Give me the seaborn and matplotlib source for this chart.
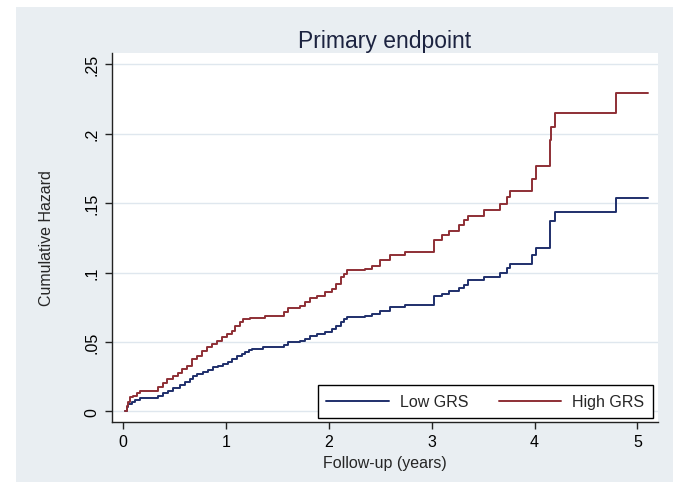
import numpy as np
import pandas as pd
import matplotlib
matplotlib.use("Agg")
import matplotlib.pyplot as plt
from matplotlib.patches import Rectangle
import seaborn as sns

# Nelson-Aalen style cumulative hazard (step-post)
LOW_T = [0.02, 0.036, 0.05, 0.084, 0.117, 0.165, 0.344, 0.392, 0.44, 0.49,
         0.554, 0.603, 0.652, 0.684, 0.717, 0.781, 0.83, 0.879, 0.927, 0.976,
         1.025, 1.057, 1.106, 1.155, 1.187, 1.22, 1.25, 1.365, 1.56, 1.608,
         1.72, 1.77, 1.819, 1.884, 1.965, 2.03, 2.07, 2.118, 2.15, 2.18,
         2.35, 2.42, 2.5, 2.597, 2.743, 3.02, 3.10, 3.17, 3.27, 3.31,
         3.355, 3.51, 3.66, 3.73, 3.765, 3.975, 4.01, 4.15, 4.155, 4.16,
         4.20, 4.79, 5.10]
LOW_H = [0.0, 0.0035, 0.0054, 0.007, 0.0085, 0.0097, 0.0114, 0.0131, 0.015, 0.0169,
         0.0191, 0.021, 0.0234, 0.0258, 0.027, 0.0287, 0.0301, 0.0318, 0.033, 0.0342,
         0.0359, 0.0378, 0.0397, 0.0414, 0.0431, 0.0445, 0.045, 0.0464, 0.0481, 0.0499,
         0.051, 0.0522, 0.0546, 0.0558, 0.057, 0.0594, 0.0618, 0.0647, 0.0666, 0.0679,
         0.069, 0.0702, 0.0726, 0.075, 0.0765, 0.0828, 0.0843, 0.0864, 0.0886, 0.0912,
         0.0943, 0.0967, 0.0998, 0.103, 0.1063, 0.1123, 0.118, 0.129, 0.1368, 0.1368,
         0.1435, 0.1536, 0.1536]

HIGH_T = [0.02, 0.036, 0.05, 0.068, 0.10, 0.133, 0.165, 0.344, 0.392, 0.425,
          0.49, 0.538, 0.571, 0.62, 0.668, 0.717, 0.766, 0.814, 0.863, 0.911,
          0.96, 1.009, 1.057, 1.09, 1.138, 1.17, 1.235, 1.38, 1.56, 1.608,
          1.72, 1.77, 1.819, 1.884, 1.965, 2.03, 2.07, 2.118, 2.15, 2.18,
          2.35, 2.42, 2.5, 2.597, 2.743, 3.02, 3.10, 3.17, 3.27, 3.31,
          3.355, 3.51, 3.66, 3.73, 3.765, 3.975, 4.01, 4.15, 4.155, 4.16,
          4.20, 4.79, 5.10]
HIGH_H = [0.0, 0.004, 0.007, 0.0102, 0.0114, 0.0133, 0.0145, 0.0174, 0.0205, 0.0234,
          0.0254, 0.0275, 0.0306, 0.0326, 0.0378, 0.0402, 0.0438, 0.0462, 0.0486, 0.051,
          0.0534, 0.0558, 0.0582, 0.0618, 0.0647, 0.0666, 0.0674, 0.069, 0.0719, 0.0746,
          0.0762, 0.0787, 0.0815, 0.0834, 0.0859, 0.0883, 0.0919, 0.0967, 0.099, 0.1015,
          0.1027, 0.105, 0.1087, 0.1123, 0.1151, 0.1233, 0.1267, 0.13, 0.1339, 0.1375,
          0.141, 0.1453, 0.1495, 0.1543, 0.1588, 0.1675, 0.1766, 0.186, 0.1955, 0.2047,
          0.215, 0.2295, 0.2295]

GROUPS = ["Low GRS", "High GRS"]
COLORS = ["#1f2f6b", "#8e2f35"]
X_TICKS = [0, 1, 2, 3, 4, 5]
Y_TICKS = [0, 0.05, 0.1, 0.15, 0.2, 0.25]
Y_LABELS = ["0", ".05", ".1", ".15", ".2", ".25"]

PANEL = "#e9eef2"
GRID = "#dfe7ee"

df = pd.concat([
    pd.DataFrame({"t": LOW_T, "h": LOW_H, "group": GROUPS[0]}),
    pd.DataFrame({"t": HIGH_T, "h": HIGH_H, "group": GROUPS[1]}),
])

sns.set_style("white")
plt.rcParams["font.family"] = ["Liberation Sans", "DejaVu Sans"]

fig = plt.figure(figsize=(6.75, 4.85), dpi=100)
fig.patch.set_facecolor("white")
# light grey-blue graph region, inset from the white edge
fig.add_artist(Rectangle((16 / 675, 2 / 485), 657 / 675, 475 / 485,
                         transform=fig.transFigure, facecolor=PANEL,
                         edgecolor="none", zorder=-10))

ax = fig.add_axes([112 / 675, 62 / 485, 546 / 675, 369 / 485])
ax.set_zorder(1)
ax.set_facecolor("white")

for g, c in zip(GROUPS, COLORS):
    sns.lineplot(data=df[df["group"] == g], x="t", y="h", ax=ax,
                 estimator=None, drawstyle="steps-post", color=c,
                 linewidth=1.4, label=g)

ax.set_xlim(-0.107, 5.2)
ax.set_ylim(-0.0076, 0.258)
ax.set_xticks(X_TICKS)
ax.set_yticks(Y_TICKS)
ax.set_yticklabels(Y_LABELS, rotation=90, va="center")
ax.yaxis.grid(True, color=GRID, linewidth=1.0)
ax.set_axisbelow(True)

for s in ["top", "right"]:
    ax.spines[s].set_visible(False)
for s in ["left", "bottom"]:
    ax.spines[s].set_color("#222222")
    ax.spines[s].set_linewidth(1.0)

ax.tick_params(axis="both", direction="out", length=5, width=1.0,
               color="#222222", labelsize=11.5, labelcolor="black", pad=4)
ax.tick_params(axis="x", bottom=True)
ax.tick_params(axis="y", left=True)

ax.set_xlabel("Follow-up (years)", fontsize=11.5, labelpad=4)
ax.set_ylabel("Cumulative Hazard", fontsize=11.5, labelpad=22)
ax.set_title("Primary endpoint", fontsize=16.5, color="#1c2340", pad=4)

leg = ax.legend(loc="lower right", bbox_to_anchor=(0.991, 0.0108), ncol=2,
                frameon=True, fancybox=False, framealpha=1, edgecolor="black",
                fontsize=11.5, handlelength=3.9, handletextpad=0.7,
                columnspacing=1.9, borderpad=0.55, borderaxespad=0)
leg.get_frame().set_linewidth(1.0)

fig.savefig("out.png", dpi=100, facecolor="white")
